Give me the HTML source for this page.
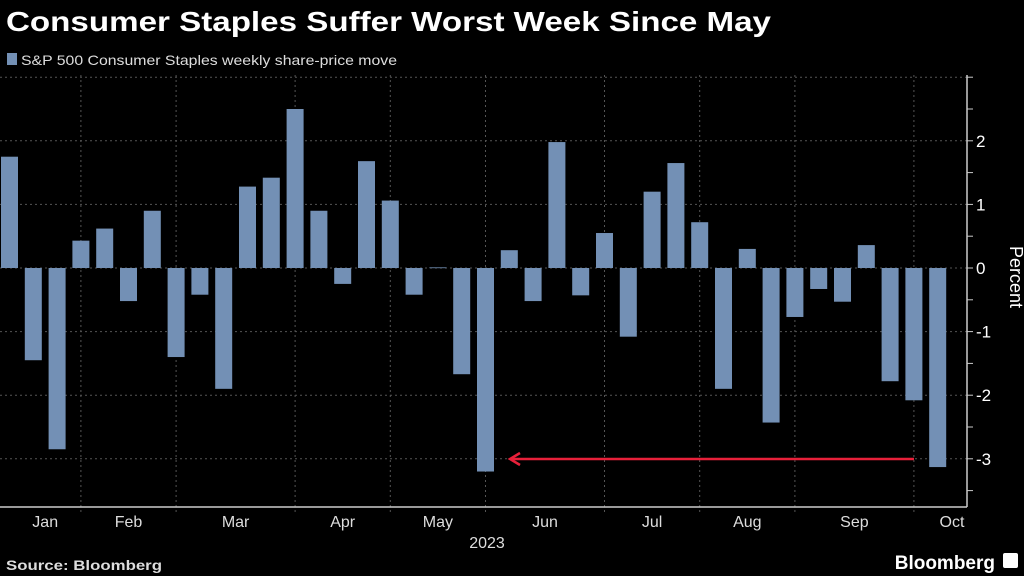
<!DOCTYPE html>
<html><head><meta charset="utf-8"><style>
html,body{margin:0;background:#000;width:1024px;height:576px;overflow:hidden;font-family:"Liberation Sans",sans-serif;color:#fff}
svg{display:block}
</style></head><body>
<svg width="1024" height="576" xmlns="http://www.w3.org/2000/svg">
<text x="6" y="31" font-size="28" font-weight="bold" fill="#fff" textLength="765" lengthAdjust="spacingAndGlyphs">Consumer Staples Suffer Worst Week Since May</text>
<rect x="7" y="53" width="10" height="12" fill="#7390b5"/>
<text x="21" y="65" font-size="14" fill="#ddd" textLength="376" lengthAdjust="spacingAndGlyphs">S&amp;P 500 Consumer Staples weekly share-price move</text>
<g id="grid"></g><g id="bars"></g><g id="axis"></g>
<line x1="914" y1="459" x2="512" y2="459" stroke="#e8203a" stroke-width="2.5"/>
<polyline points="520,453 510,459 520,465" fill="none" stroke="#e8203a" stroke-width="2.5"/>
<text x="1019" y="268" font-size="18" fill="#fff" text-anchor="middle" transform="rotate(90 1010 268)">Percent</text>
<text x="487" y="548" font-size="16" fill="#ddd" text-anchor="middle">2023</text>
<text x="6" y="570" font-size="14" font-weight="bold" fill="#ddd" textLength="156" lengthAdjust="spacingAndGlyphs">Source: Bloomberg</text>
<text x="995" y="569" font-size="19" font-weight="bold" fill="#fff" text-anchor="end">Bloomberg</text>
<rect x="1003" y="553" width="15" height="15" rx="2" fill="#fff"/>
</svg>
<script>
const values=[1.75,-1.45,-2.85,0.43,0.62,-0.52,0.9,-1.4,-0.42,-1.9,1.28,1.42,2.5,0.9,-0.25,1.68,1.06,-0.42,0.01,-1.67,-3.2,0.28,-0.52,1.98,-0.43,0.55,-1.08,1.2,1.65,0.72,-1.9,0.3,-2.43,-0.77,-0.33,-0.53,0.36,-1.78,-2.08,-3.13];
const monthStarts=[3,7,12,16,20,25,29,33,38];
const monthLabels=["Jan","Feb","Mar","Apr","May","Jun","Jul","Aug","Sep","Oct"];
const monthLabelPos=[1.5,5.0,9.5,14.0,18.0,22.5,27.0,31.0,35.5,39.6];
const yTicks=[-3,-2,-1,0,1,2];
const NS="http://www.w3.org/2000/svg";
const x=i=>9.5+23.8*i;
const y=v=>268-63.6*v;
function mk(t,a,p){const e=document.createElementNS(NS,t);for(const k in a)e.setAttribute(k,a[k]);p.appendChild(e);return e;}
const G=document.getElementById('grid'),B=document.getElementById('bars'),A=document.getElementById('axis');
for(let v=-3;v<=3;v++){const l=mk('line',{x1:0,x2:967,y1:y(v),y2:y(v),stroke:'#555','stroke-dasharray':'2,3'},G);

}
monthStarts.forEach(m=>{const l=mk('line',{x1:x(m),x2:x(m),y1:75,y2:512,stroke:'#555','stroke-dasharray':'2,3'},G);

});
values.forEach((v,i)=>{const r=mk('rect',{x:x(i)-8.5,width:17,y:Math.min(y(v),y(0)),height:Math.max(Math.abs(y(v)-y(0)),0.8),fill:'#7390b5'},B);

});
let ax=mk('line',{x1:967,x2:967,y1:75,y2:507,stroke:'#ccc','stroke-width':1.5},A);


let bx=mk('line',{x1:0,x2:967,y1:507,y2:507,stroke:'#ccc','stroke-width':1.5},A);


for(let v=-3.5;v<=3;v+=0.5){const t=mk('line',{x1:967,x2:973,y1:y(v),y2:y(v),stroke:'#ccc'},A);

}
yTicks.forEach(v=>{const t=mk('text',{x:976,y:y(v)+6,'font-size':17,fill:'#fff'},A);t.textContent=(v<0?'-':'')+Math.abs(v);

});
monthLabels.forEach((m,i)=>{const t=mk('text',{x:x(monthLabelPos[i]),y:527,'font-size':16,fill:'#ddd','text-anchor':'middle'},A);t.textContent=m;

});
</script>
</body></html>
